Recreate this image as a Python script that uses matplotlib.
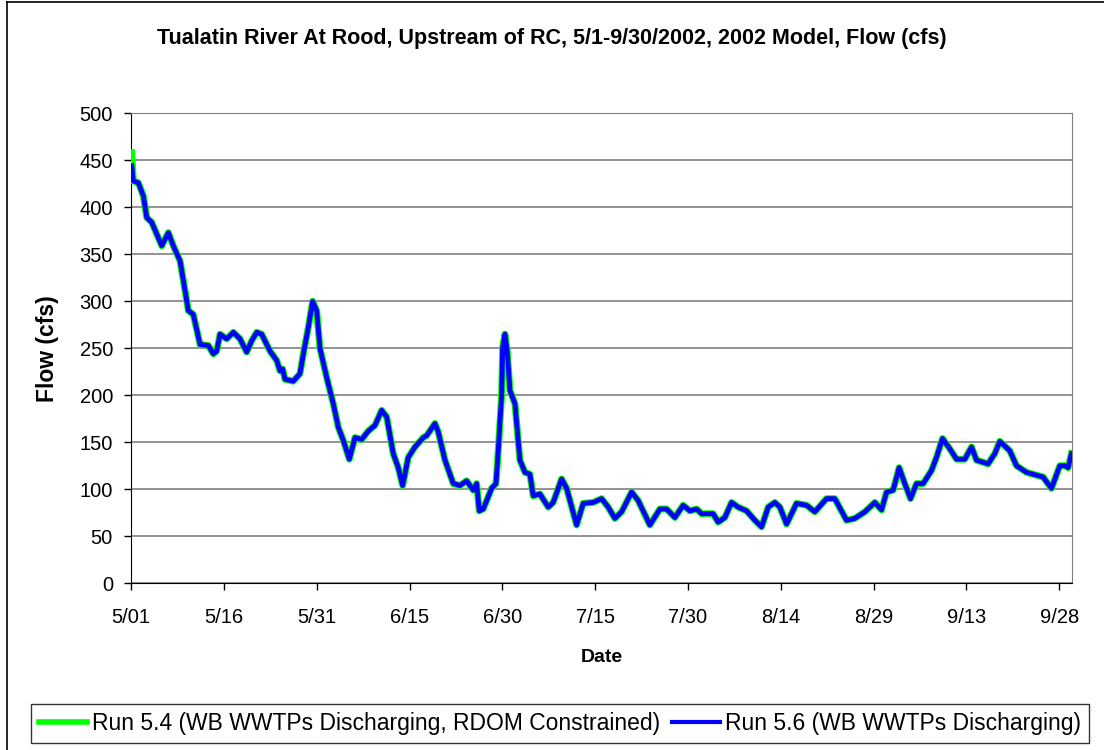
import numpy as np
import matplotlib.pyplot as plt
from matplotlib.lines import Line2D

plt.rcParams['font.family'] = ['Liberation Sans', 'DejaVu Sans']

# Dias desde 5/01/2002 y caudal (cfs)
dias = [0.11, 0.37, 1.18, 1.99, 2.54, 3.34, 4.96, 6.03, 6.83, 7.92, 8.72, 9.26,
        10.06, 11.15, 12.49, 13.30, 13.84, 14.38, 15.46, 16.53, 17.61, 18.69,
        19.50, 20.31, 21.11, 22.46, 23.54, 24.07, 24.50, 24.88, 26.22, 27.30,
        27.84, 28.64, 29.35, 30.00, 30.53, 31.61, 32.68, 33.49, 34.30, 35.27,
        36.19, 37.27, 38.34, 39.42, 40.50, 41.31, 42.37, 43.18, 43.89, 44.80,
        45.88, 47.22, 47.77, 49.11, 49.64, 50.73, 52.07, 53.15, 54.23, 55.30,
        55.85, 56.27, 56.91, 58.27, 58.97, 59.34, 59.89, 60.05, 60.42, 60.79,
        61.23, 62.04, 62.84, 63.65, 64.46, 64.99, 66.07, 67.42, 68.22, 69.58,
        70.39, 72.00, 73.07, 74.68, 76.04, 77.11, 78.19, 79.27, 80.89, 81.95,
        83.84, 85.46, 86.54, 87.88, 89.22, 90.31, 91.39, 92.20, 94.07, 94.88,
        95.96, 97.04, 98.11, 99.47, 100.81, 101.89, 102.96, 104.04, 104.85,
        105.93, 107.54, 109.16, 110.50, 112.39, 113.73, 115.62, 116.96, 118.58,
        120.19, 121.28, 122.08, 123.15, 124.12, 125.04, 125.96, 126.93, 128.00,
        129.35, 130.16, 131.13, 132.31, 133.39, 134.73, 135.82, 136.62, 138.50,
        139.58, 140.39, 142.00, 143.09, 144.70, 146.32, 147.38, 148.74, 150.08,
        150.89, 151.42, 151.97]

run56 = [444, 428, 426, 412, 389, 384, 359, 373, 359, 343, 311, 290,
         286, 254, 253, 244, 247, 265, 260, 267, 260, 246,
         258, 267, 265, 247, 237, 226, 228, 217, 215, 223,
         244, 272, 300, 290, 250, 219, 191, 166, 152, 132,
         155, 153, 162, 168, 184, 177, 138, 123, 104, 134,
         145, 155, 157, 170, 161, 131, 106, 104, 109, 99,
         106, 77, 79, 101, 106, 141, 201, 251, 265, 247,
         205, 191, 131, 118, 116, 93, 95, 81, 86, 111,
         101, 62, 85, 86, 90, 81, 69, 76, 97, 88,
         62, 79, 79, 70, 83, 77, 79, 74, 74, 65,
         70, 86, 81, 77, 67, 60, 81, 86, 81,
         63, 85, 83, 76, 90, 90, 67, 69, 76,
         86, 78, 97, 99, 123, 106, 90, 106, 106,
         120, 134, 154, 143, 132, 132, 145, 131, 127,
         138, 151, 141, 125, 118, 115, 113, 101, 125,
         125, 123, 138]

# Run 5.4 coincide con 5.6 salvo el primer punto
run54 = list(run56)
run54[0] = 458

tick_dias = [0, 15, 30, 45, 60, 75, 90, 105, 120, 135, 150]
tick_txt = ['5/01', '5/16', '5/31', '6/15', '6/30', '7/15', '7/30', '8/14',
            '8/29', '9/13', '9/28']

fig = plt.figure(figsize=(11.04, 7.5), dpi=100)
ax = fig.add_axes([0.1187, 0.2223, 0.852, 0.6267])

ax.plot(dias, run54, color='#00ff00', lw=5.0, solid_joinstyle='round', zorder=3)
ax.plot(dias, run56, color='#0000ff', lw=3.5, solid_joinstyle='round', zorder=4)

ax.set_xlim(0, 152)
ax.set_ylim(0, 500)
ax.set_yticks(range(0, 501, 50))
ax.set_xticks(tick_dias)
ax.set_xticklabels(tick_txt)
ax.yaxis.grid(True, color='#808080', lw=1.2)
ax.set_axisbelow(True)
ax.tick_params(direction='out', length=5, width=1, labelsize=14.5, colors='black')
ax.tick_params(axis='x', pad=13)
ax.tick_params(axis='y', pad=8)
ax.spines['left'].set_color('black')
ax.spines['bottom'].set_color('black')
ax.spines['top'].set_color('#808080')
ax.spines['right'].set_color('#808080')

ax.set_xlabel('Date', fontsize=14, fontweight='bold', labelpad=16)
ax.set_ylabel('Flow (cfs)', fontsize=16.5, fontweight='bold', labelpad=15)
fig.text(0.5, 0.949, 'Tualatin River At Rood, Upstream of RC, 5/1-9/30/2002, 2002 Model, Flow (cfs)',
         ha='center', va='center', fontsize=15.5, fontweight='bold')

handles = [Line2D([], [], color='#00ff00', lw=4),
           Line2D([], [], color='#0000ff', lw=3)]
labels = ['Run 5.4 (WB WWTPs Discharging, RDOM Constrained)',
          'Run 5.6 (WB WWTPs Discharging)']
leg = fig.legend(handles, labels, loc='center', bbox_to_anchor=(0.5072, 0.0353),
                 ncol=2, fontsize=16.5, frameon=True, fancybox=False,
                 handlelength=2.1, handletextpad=0.22, columnspacing=0.52,
                 borderpad=0.35)
leg.get_frame().set_edgecolor('black')
leg.get_frame().set_linewidth(1)

# marco exterior
fig.add_artist(Line2D([0.0065, 0.0065], [0, 0.997], color='black', lw=1.2))
fig.add_artist(Line2D([0.0065, 1], [0.997, 0.997], color='black', lw=1.2))

fig.savefig('out.png', dpi=100)
